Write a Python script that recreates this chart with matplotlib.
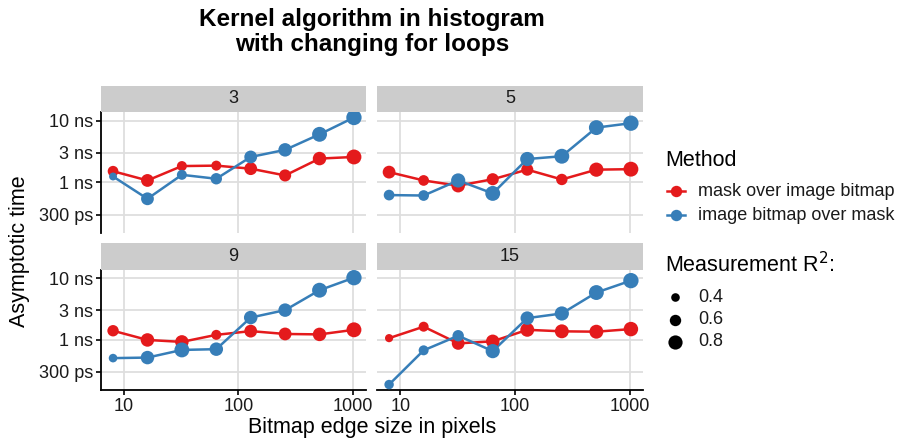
import matplotlib
matplotlib.use("Agg")
import matplotlib.pyplot as plt
from matplotlib.lines import Line2D
import numpy as np

plt.rcParams['font.family'] = ['Liberation Sans', 'DejaVu Sans']

# data: asymptotic time in ns per bitmap edge size, and measurement R^2
sizes = [8, 16, 32, 64, 128, 256, 512, 1024]
loops = ["3", "5", "9", "15"]
methods = ["mask over image bitmap", "image bitmap over mask"]
colors = ["#E41A1C", "#377EB8"]

time_mask = {
    "3":  [1.51, 1.07, 1.83, 1.86, 1.66, 1.29, 2.42, 2.57],
    "5":  [1.46, 1.07, 0.88, 1.12, 1.60, 1.11, 1.60, 1.63],
    "9":  [1.40, 0.99, 0.92, 1.20, 1.38, 1.24, 1.22, 1.45],
    "15": [1.06, 1.63, 0.87, 0.94, 1.45, 1.37, 1.35, 1.49],
}
time_bitmap = {
    "3":  [1.24, 0.54, 1.32, 1.14, 2.57, 3.35, 5.98, 11.2],
    "5":  [0.62, 0.61, 1.07, 0.66, 2.38, 2.64, 7.68, 9.06],
    "9":  [0.50, 0.51, 0.68, 0.70, 2.30, 3.04, 6.43, 10.3],
    "15": [0.185, 0.67, 1.16, 0.65, 2.25, 2.68, 5.89, 9.22],
}
r2_mask = {
    "3":  [0.55, 0.70, 0.50, 0.50, 0.70, 0.65, 0.75, 0.85],
    "5":  [0.70, 0.55, 0.75, 0.65, 0.65, 0.60, 0.80, 0.85],
    "9":  [0.60, 0.75, 0.75, 0.50, 0.70, 0.70, 0.75, 0.85],
    "15": [0.37, 0.50, 0.70, 0.75, 0.78, 0.78, 0.78, 0.82],
}
r2_bitmap = {
    "3":  [0.35, 0.70, 0.50, 0.60, 0.70, 0.75, 0.85, 0.88],
    "5":  [0.55, 0.55, 0.80, 0.85, 0.80, 0.85, 0.85, 0.88],
    "9":  [0.40, 0.75, 0.85, 0.75, 0.75, 0.75, 0.85, 0.88],
    "15": [0.46, 0.50, 0.60, 0.80, 0.75, 0.80, 0.85, 0.88],
}
legend_r2 = [0.4, 0.6, 0.8]

y_ticks = [0.3, 1, 3, 10]
y_labels = ["300 ps", "1 ns", "3 ns", "10 ns"]
x_ticks = [10, 100, 1000]

W, H = 902, 446
GRID = "#DEDEDE"
STRIP = "#CCCCCC"


def marker_area(r):
    d_px = 3 + 14 * np.asarray(r)
    return (d_px * 0.72) ** 2


def px_axes(fig, x0, y0, x1, y1):
    return fig.add_axes([x0 / W, 1 - y1 / H, (x1 - x0) / W, (y1 - y0) / H])


fig = plt.figure(figsize=(W / 100, H / 100), dpi=100)

cols = [(101, 366), (377, 643)]
rows = [(112, 233), (270, 390)]
strip_h = 26.5

all_times = np.concatenate([np.array(time_mask[k] + time_bitmap[k]) for k in loops])
lo, hi = np.log10(all_times.min()), np.log10(all_times.max())
pad = 0.05 * (hi - lo)
ylim = (10 ** (lo - pad), 10 ** (hi + pad))
xlo, xhi = np.log10(sizes[0]), np.log10(sizes[-1])
xpad = 0.05 * (xhi - xlo)
xlim = (10 ** (xlo - xpad), 10 ** (xhi + xpad))

for i, key in enumerate(loops):
    r, c = divmod(i, 2)
    x0, x1 = cols[c]
    y0, y1 = rows[r]
    ax = px_axes(fig, x0, y0, x1, y1)
    ax.set_xscale("log")
    ax.set_yscale("log")
    ax.set_xlim(*xlim)
    ax.set_ylim(*ylim)
    ax.set_xticks(x_ticks)
    ax.set_yticks(y_ticks)
    ax.minorticks_off()
    ax.grid(True, color=GRID, linewidth=1.3)
    ax.set_axisbelow(True)
    for s in ax.spines.values():
        s.set_visible(False)
    if c == 0:
        ax.spines["left"].set_visible(True)
        ax.spines["left"].set_linewidth(1.3)
        ax.set_yticklabels(y_labels)
    else:
        ax.set_yticklabels([])
    if r == 1:
        ax.spines["bottom"].set_visible(True)
        ax.spines["bottom"].set_linewidth(1.3)
        ax.set_xticklabels([str(t) for t in x_ticks])
    else:
        ax.set_xticklabels([])
    ax.tick_params(axis="y", length=3.5 if c == 0 else 0, width=1.2, color="black",
                   labelsize=13, labelcolor="#1a1a1a", pad=2)
    ax.tick_params(axis="x", length=3.5 if r == 1 else 0, width=1.2, color="black",
                   labelsize=13, labelcolor="#1a1a1a", pad=2)

    series = [(time_mask[key], r2_mask[key]), (time_bitmap[key], r2_bitmap[key])]
    for (t, _), col in zip(series, colors):
        ax.plot(sizes, t, color=col, linewidth=1.8, zorder=2)
    for (t, rr), col in zip(series, colors):
        ax.scatter(sizes, t, s=marker_area(rr), color=col, linewidths=0, zorder=3)

    sax = px_axes(fig, x0, y0 - strip_h, x1, y0)
    sax.set_facecolor(STRIP)
    sax.set_xticks([])
    sax.set_yticks([])
    for s in sax.spines.values():
        s.set_visible(False)
    sax.text(0.5, 0.5, key, ha="center", va="center", fontsize=13, color="#1a1a1a",
             transform=sax.transAxes)

# titles
fig.text(372 / W, 1 - 32 / H, "Kernel algorithm in histogram\nwith changing for loops",
         ha="center", va="center", fontsize=17.5, fontweight="bold", linespacing=1.1)
fig.text(372 / W, 1 - 428 / H, "Bitmap edge size in pixels", ha="center", va="center",
         fontsize=15.5)
fig.text(20 / W, 1 - 251 / H, "Asymptotic time", ha="center", va="center",
         fontsize=15.5, rotation=90)

# legends
lax = fig.add_axes([0, 0, 1, 1])
lax.set_xlim(0, W)
lax.set_ylim(H, 0)
lax.axis("off")
lax.text(665, 160, "Method", ha="left", va="center", fontsize=15.5)
for j, (m, col) in enumerate(zip(methods, colors)):
    yy = 191 + 24 * j
    lax.add_line(Line2D([667, 685], [yy, yy], color=col, linewidth=1.8))
    lax.scatter([676], [yy], s=marker_area(0.6), color=col, linewidths=0)
    lax.text(698, yy, m, ha="left", va="center", fontsize=13, color="#1a1a1a")
lax.text(665, 265, "Measurement R$^2$:", ha="left", va="center", fontsize=15.5)
for j, rv in enumerate(legend_r2):
    yy = 297 + 22.5 * j
    lax.scatter([675], [yy], s=marker_area(rv), color="black", linewidths=0)
    lax.text(698, yy, f"{rv:.1f}", ha="left", va="center", fontsize=13, color="#1a1a1a")

fig.savefig("out.png", dpi=100)
